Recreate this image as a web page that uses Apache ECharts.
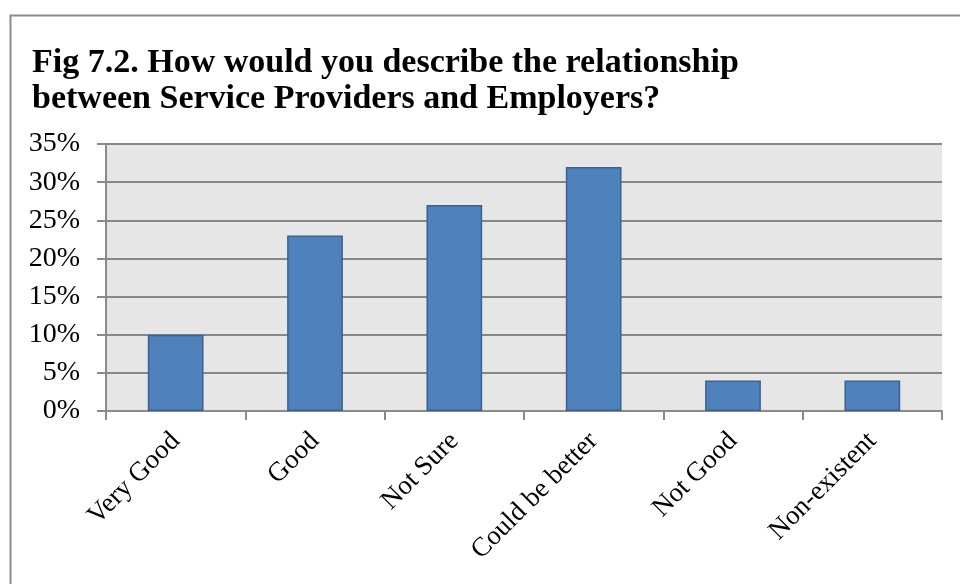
<!DOCTYPE html>
<html>
<head>
<meta charset="utf-8">
<script src="https://cdn.jsdelivr.net/npm/echarts@6/dist/echarts.min.js"></script>
<style>
  html, body { margin: 0; padding: 0; background: #ffffff; }
  #chart { width: 960px; height: 584px; }
</style>
</head>
<body>
<div id="chart"></div>
<script>
// Survey answers and share of respondents (%)
const categories = ['Very Good', 'Good', 'Not Sure', 'Could be better', 'Not Good', 'Non-existent'];
const shares = [10, 23, 27, 32, 4, 4];
const titleLines = [
  'Fig 7.2. How would you describe the relationship',
  'between Service Providers and Employers?'
];

const serif = '"Liberation Serif", "DejaVu Serif", serif';
const chart = echarts.init(document.getElementById('chart'), null, { renderer: 'canvas' });

chart.setOption({
  animation: false,
  backgroundColor: '#ffffff',
  title: {
    text: titleLines.join('\n'),
    left: 27,
    top: 40,
    textStyle: {
      fontFamily: serif,
      fontWeight: 'bold',
      fontSize: 34,
      lineHeight: 36,
      color: '#000000'
    }
  },
  graphic: [{
    type: 'rect',
    silent: true,
    shape: { x: 10.5, y: 15.5, width: 980, height: 600 },
    style: { fill: null, stroke: '#8c8c8c', lineWidth: 2 }
  }],
  grid: {
    left: 106,
    right: 18,
    top: 144,
    bottom: 173,
    show: true,
    backgroundColor: '#e6e6e6',
    borderWidth: 0
  },
  xAxis: {
    type: 'category',
    data: categories,
    boundaryGap: true,
    axisLine: { show: true, lineStyle: { color: '#8a8a8a', width: 2 } },
    axisTick: { show: true, alignWithLabel: false, length: 9, lineStyle: { color: '#8a8a8a', width: 2 } },
    axisLabel: {
      rotate: 45,
      margin: 26,
      interval: 0,
      fontFamily: serif,
      fontSize: 27,
      color: '#000000'
    }
  },
  yAxis: {
    type: 'value',
    min: 0,
    max: 35,
    interval: 5,
    axisLine: { show: true, lineStyle: { color: '#8a8a8a', width: 2 } },
    axisTick: { show: true, length: 9, lineStyle: { color: '#8a8a8a', width: 2 } },
    splitLine: { show: true, lineStyle: { color: '#878787', width: 2 } },
    axisLabel: {
      margin: 26,
      fontFamily: serif,
      fontSize: 28,
      color: '#000000',
      formatter: '{value}%'
    }
  },
  series: [{
    type: 'bar',
    data: shares,
    barWidth: '40%',
    itemStyle: {
      color: '#4f81bd',
      borderColor: '#3a6290',
      borderWidth: 1.5
    }
  }]
});
</script>
</body>
</html>
